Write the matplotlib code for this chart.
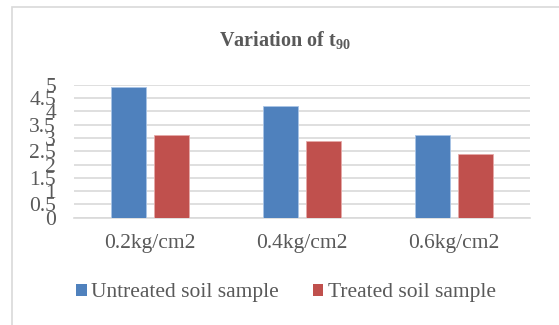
import matplotlib
matplotlib.use("Agg")
import matplotlib.pyplot as plt
import numpy as np
from matplotlib.patches import Rectangle, Patch

categories = ["0.2kg/cm2", "0.4kg/cm2", "0.6kg/cm2"]
untreated = [4.9, 4.2, 3.1]
treated = [3.1, 2.9, 2.4]
yticks = [0, 0.5, 1, 1.5, 2, 2.5, 3, 3.5, 4, 4.5, 5]
ytick_labels = ["0", "0.5", "1", "1.5", "2", "2.5", "3", "3.5", "4", "4.5", "5"]
series_names = ["Untreated soil sample", "Treated soil sample"]

plt.rcParams['font.family'] = ['Liberation Serif', 'DejaVu Serif']
plt.rcParams['mathtext.fontset'] = 'custom'
plt.rcParams['mathtext.rm'] = 'Liberation Serif'
plt.rcParams['mathtext.bf'] = 'Liberation Serif:bold'

W, H = 559, 325
fig = plt.figure(figsize=(W / 100, H / 100), dpi=100)
fig.patch.set_facecolor("white")

# outer chart border (left and top visible)
fig.patches.append(Rectangle((12 / W, -0.1), 1.2, (H - 7) / H + 0.1,
                             transform=fig.transFigure, fill=False,
                             edgecolor="#d9d9d9", linewidth=1.2))

ax = fig.add_axes([74 / W, (H - 217.7) / H, 456 / W, 133 / H])
text_color = "#595959"
blue = "#4f81bd"
red = "#c0504d"

x = np.arange(len(categories))
bw = 0.227
off = 0.143
ax.bar(x - off, untreated, bw, color=blue, edgecolor="#a9c4e6", linewidth=0.6, zorder=3)
ax.bar(x + off, treated, bw, color=red, edgecolor="#e6a9a8", linewidth=0.6, zorder=3)

ax.set_xlim(-0.5, 2.5)
ax.set_ylim(0, 5)
ax.set_yticks(yticks)
ax.set_yticklabels(ytick_labels)
ax.set_xticks(x)
ax.set_xticklabels(categories)
ax.tick_params(axis="both", length=0, labelsize=15.5, labelcolor=text_color)
ax.tick_params(axis="y", pad=13)
ax.tick_params(axis="x", pad=12)
ax.yaxis.grid(True, color="#d9d9d9", linewidth=1.2, zorder=0)
ax.set_axisbelow(True)
for s in ["top", "right", "left"]:
    ax.spines[s].set_visible(False)
ax.spines["bottom"].set_color("#d9d9d9")
ax.spines["bottom"].set_linewidth(1.2)

fig.text(285 / W, 1 - 41 / H, r"Variation of t$_\mathbf{90}$", ha="center", va="center",
         fontsize=14.5, fontweight="bold", color=text_color)

handles = [Patch(facecolor=blue), Patch(facecolor=red)]
leg = fig.legend(handles, series_names, loc="center", bbox_to_anchor=(286 / W, 1 - 293 / H),
                 ncol=2, frameon=False, fontsize=15.5, handlelength=0.5, handleheight=0.5,
                 handletextpad=0.2, columnspacing=1.55, borderpad=0)
for t in leg.get_texts():
    t.set_color(text_color)

fig.savefig("out.png", dpi=100)
